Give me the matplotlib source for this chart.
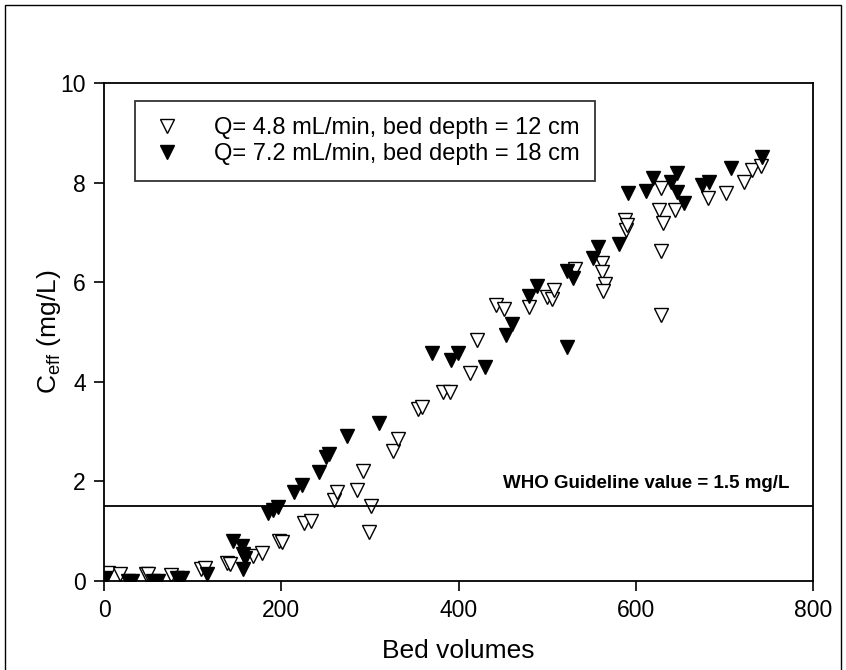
import matplotlib
matplotlib.use('Agg')
import matplotlib.pyplot as plt
from matplotlib.patches import Rectangle

plt.rcParams['font.family'] = ['Liberation Sans', 'DejaVu Sans']

# Q = 4.8 mL/min, bed depth = 12 cm (open triangles)
bv_12 = [5, 18, 47, 50, 76, 110, 114, 139, 142, 168, 178, 197, 201, 226, 234,
         260, 263, 285, 292, 299, 301, 326, 332, 354, 359, 382, 390, 413, 421,
         442, 451, 479, 500, 506, 508, 532, 562, 562, 565, 563, 588, 589, 590,
         628, 626, 644, 631, 629, 628, 682, 702, 722, 731, 741]
c_12 = [0.17, 0.15, 0.15, 0.15, 0.13, 0.25, 0.27, 0.37, 0.35, 0.51, 0.57, 0.81,
        0.79, 1.16, 1.20, 1.62, 1.78, 1.82, 2.20, 0.98, 1.50, 2.61, 2.85, 3.45,
        3.49, 3.79, 3.79, 4.17, 4.83, 5.54, 5.46, 5.50, 5.70, 5.66, 5.84, 6.26,
        6.38, 6.20, 5.96, 5.82, 7.25, 7.05, 7.15, 7.89, 7.45, 7.45, 7.19, 6.62,
        5.34, 7.69, 7.79, 8.01, 8.25, 8.33]

# Q = 7.2 mL/min, bed depth = 18 cm (filled triangles)
bv_18 = [1, 27, 32, 55, 61, 82, 88, 116, 146, 156, 157, 159, 157, 185, 191, 196,
         214, 223, 243, 250, 254, 274, 310, 370, 392, 399, 430, 454, 460, 479,
         489, 522, 522, 529, 552, 557, 581, 591, 612, 620, 640, 646, 647, 654,
         675, 683, 708, 743]
c_18 = [0.07, 0.01, 0.01, 0.01, 0.01, 0.07, 0.07, 0.15, 0.81, 0.71, 0.55, 0.47,
        0.25, 1.36, 1.42, 1.48, 1.78, 1.92, 2.18, 2.48, 2.56, 2.92, 3.17, 4.57,
        4.43, 4.57, 4.29, 4.93, 5.17, 5.73, 5.92, 4.69, 6.22, 6.08, 6.48, 6.70,
        6.76, 7.79, 7.83, 8.09, 8.01, 8.19, 7.81, 7.59, 7.95, 8.01, 8.29, 8.51]

who_limit = 1.5

fig = plt.figure(figsize=(8.46, 6.7), dpi=100)
ax = fig.add_axes([104 / 846, 89 / 670, 709 / 846, 498 / 670])

ax.plot(bv_12, c_12, linestyle='none', marker='v', markersize=10.5,
        markerfacecolor='white', markeredgecolor='black', markeredgewidth=1.0,
        label='Q= 4.8 mL/min, bed depth = 12 cm')
ax.plot(bv_18, c_18, linestyle='none', marker='v', markersize=10.5,
        markerfacecolor='black', markeredgecolor='black',
        label='Q= 7.2 mL/min, bed depth = 18 cm')

ax.axhline(who_limit, color='black', linewidth=1.3)
ax.text(774, 1.95, 'WHO Guideline value = 1.5 mg/L', ha='right', va='center',
        fontsize=13.5, fontweight='bold')

ax.set_xlim(0, 800)
ax.set_ylim(0, 10)
ax.set_xticks([0, 200, 400, 600, 800])
ax.set_yticks([0, 2, 4, 6, 8, 10])
ax.tick_params(direction='out', length=7, width=1.2, labelsize=16.5, pad=6)
for s in ax.spines.values():
    s.set_linewidth(1.3)

ax.set_xlabel('Bed volumes', fontsize=19, labelpad=12)
ax.set_ylabel('C$_{\\mathregular{eff}}$ (mg/L)', fontsize=19, labelpad=-2)

leg = ax.legend(loc='upper left', bbox_to_anchor=(0.044, 0.963), fontsize=17,
                frameon=True, fancybox=False, edgecolor='black',
                borderpad=0.65, handlelength=1.4, handletextpad=1.3,
                labelspacing=0.2, borderaxespad=0)
leg.get_frame().set_linewidth(1.3)

fig.patches.append(Rectangle((5 / 846, -0.05), 836 / 846, 1.05 - 5 / 670,
                             transform=fig.transFigure, fill=False,
                             edgecolor='black', linewidth=1.0))

fig.savefig('out.png', dpi=100)
